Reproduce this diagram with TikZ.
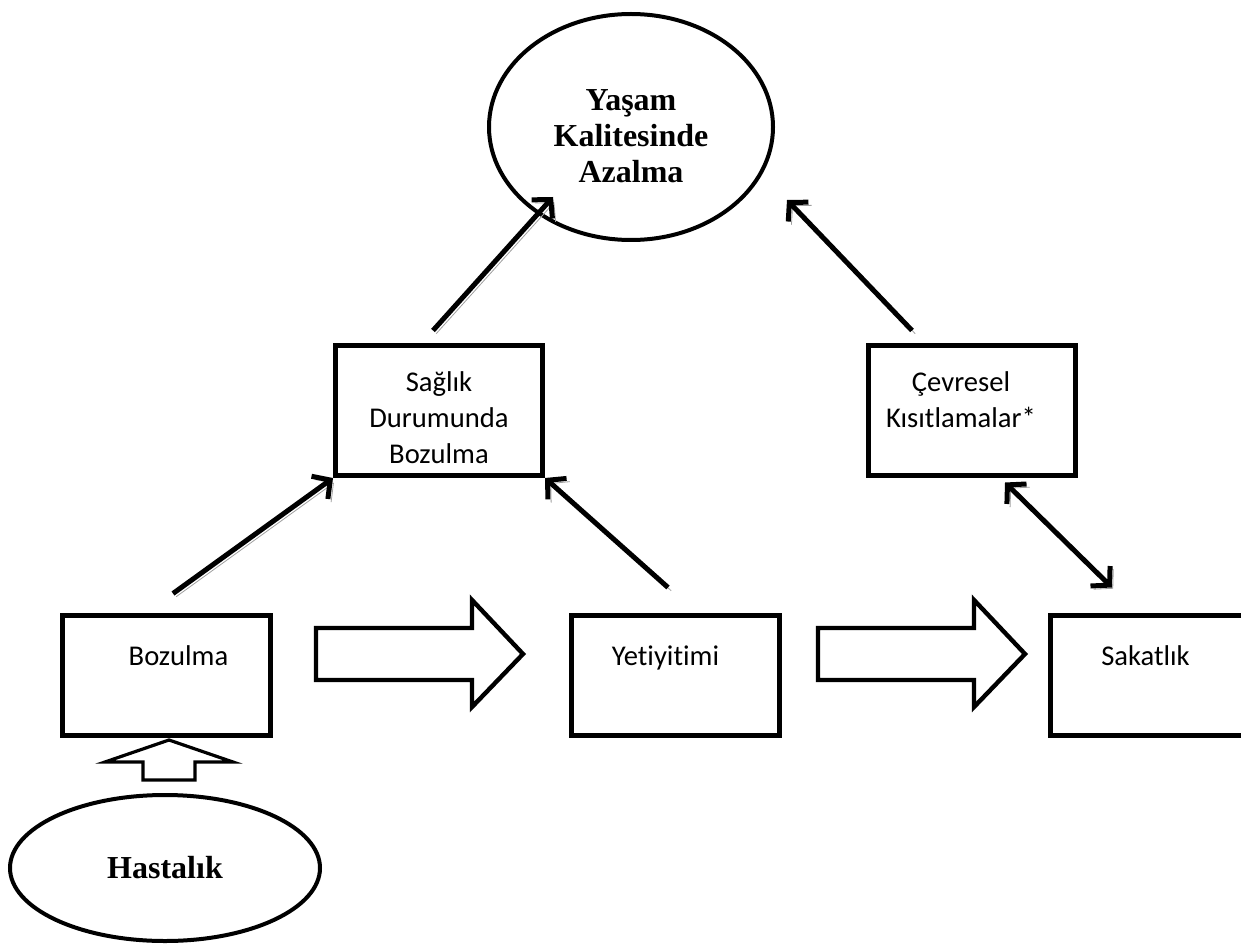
\documentclass[tikz,border=0pt]{standalone}
\usepackage{fontspec}
\setmainfont{Liberation Serif}
\newfontfamily\carlito[Ligatures={NoCommon}]{Carlito}
\usetikzlibrary{arrows.meta,positioning,shapes.geometric}
\tikzset{
    >={Straight Barb[length=6.5pt,width=14pt]},
    kutu/.style={
           draw, line width=2.5pt,
           inner sep=0pt,
           font=\carlito\fontsize{14.3}{18}\selectfont},
    elips/.style={
           ellipse, draw, line width=2pt,
           inner sep=0pt},
    elipsyazi/.style={
           inner sep=0pt, align=center,
           font=\bfseries\fontsize{16}{18}\selectfont},
    pil/.style={
           ->, line width=2.5pt,
           preaction={draw=gray!75, transform canvas={shift={(1.6pt,-1.6pt)}}}},
    blok/.style={
           draw, line width=2.2pt, line join=miter}
}
% genislik, yukseklik, ust bosluk, yatay kayma (x2), metin
\newcommand{\kutumetin}[5]{\parbox[c][#2][t]{#1}{\centering\leftskip=#4 plus 1fil\vspace{#3}#5}}

\begin{document}
\begin{tikzpicture}[x=0.5pt, y=-0.5pt]
        \useasboundingbox (0,0) rectangle (1241,952);

        % ust sira
        \node[elips, minimum width=142pt, minimum height=113pt] (yasam) at (631,127) {};
        \node[elipsyazi] (yasamyazi) at ([yshift=-4.5pt]yasam.center) {Yaşam\\Kalitesinde\\Azalma};
        \node[kutu] (saglik) at (439,410.5) {\kutumetin{103.5pt}{65pt}{13pt}{0pt}{Sağlık\\Durumunda\\Bozulma}};
        \node[kutu] (cevre) at (972,410.5) {\kutumetin{103.5pt}{65pt}{13pt}{-11pt}{Çevresel\\Kısıtlamalar*}};

        % alt sira
        \node[kutu] (bozul) at (166.5,675.5) {\kutumetin{104pt}{60pt}{15pt}{12pt}{Bozulma}};
        \node[kutu] (yeti) at (675.5,675.5) {\kutumetin{104pt}{60pt}{15pt}{-10pt}{Yetiyitimi}};
        \node[kutu] (sakat) at (1154.5,675.5) {\kutumetin{104pt}{60pt}{15pt}{-9pt}{Sakatlık}};
        \node[elips, minimum width=155pt, minimum height=73pt] (hasta) at (165,868) {};
        \node[elipsyazi] (hastayazi) at (hasta.center) {Hastalık};

        % kalin oklar
        \foreach \dx in {0,502}
            \draw[blok, shift={(\dx,0)}] (316,628) -- (472,628) -- (472,600) -- (523,654)
                -- (472,707) -- (472,680) -- (316,680) -- cycle;
        \draw[blok, line width=1.6pt] (143,780) -- (143,762) -- (105,762) -- (169,740)
            -- (233,762) -- (195,762) -- (195,780) -- cycle;

        \draw[pil] ([shift={(3.25pt,9.75pt)}]bozul.north) -- (saglik.south west);
        \draw[pil] ([shift={(-3.75pt,12.75pt)}]yeti.north) -- (saglik.south east);
        \draw[pil] ([shift={(-3pt,6.25pt)}]saglik.north) -- ([shift={(-39pt,-35pt)}]yasam.center);
        \draw[pil] ([shift={(-30pt,6.25pt)}]cevre.north) -- ([shift={(78pt,-36.5pt)}]yasam.center);
        \draw[pil, <->] ([shift={(16.5pt,-2.25pt)}]cevre.south) -- ([shift={(-21.25pt,12.75pt)}]sakat.north);
\end{tikzpicture}
\end{document}
